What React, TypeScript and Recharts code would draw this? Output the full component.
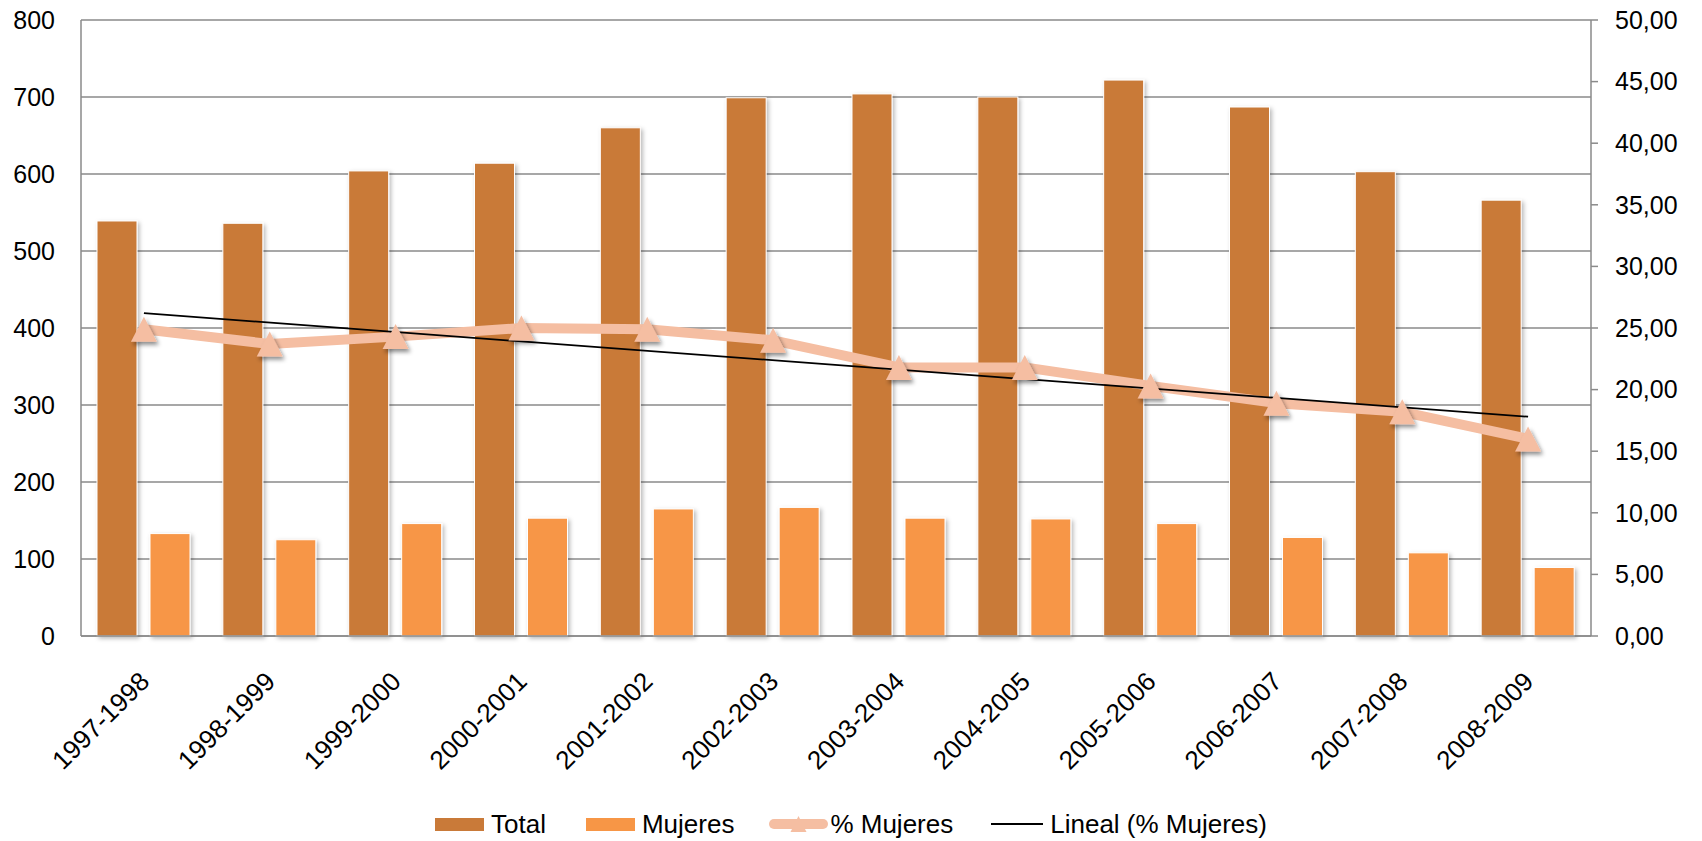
import React from 'react';
import { ComposedChart, Bar, Line, XAxis, YAxis, CartesianGrid, Legend } from 'recharts';

const categories = [
  '1997-1998', '1998-1999', '1999-2000', '2000-2001', '2001-2002', '2002-2003',
  '2003-2004', '2004-2005', '2005-2006', '2006-2007', '2007-2008', '2008-2009',
];
const totalValues = [539, 536, 604, 614, 660, 699, 704, 700, 722, 687, 603, 566];
const mujeresValues = [133, 125, 146, 153, 165, 167, 153, 152, 146, 128, 108, 89];
const pctMujeres = [24.9, 23.7, 24.3, 25.0, 24.9, 24.0, 21.8, 21.8, 20.3, 18.9, 18.2, 16.0];
const trendStart = 26.2;
const trendEnd = 17.8;
const leftTicks = [0, 100, 200, 300, 400, 500, 600, 700, 800];
const rightTicks = [0, 5, 10, 15, 20, 25, 30, 35, 40, 45, 50];

const data = categories.map((c, i) => ({
  name: c,
  total: totalValues[i],
  mujeres: mujeresValues[i],
  pct: pctMujeres[i],
  trend: i === 0 ? trendStart : i === categories.length - 1 ? trendEnd : null,
}));

const FONT = '"Liberation Sans", Arial, sans-serif';
const TOTAL_COLOR = '#C97A39';
const MUJ_COLOR = '#F79646';
const PCT_COLOR = '#F5BEA2';
const GRID = '#8a8a8a';

const ShadowBar = (props: any) => {
  const { x, y, width, height, fill } = props;
  if (height == null || width == null) return null;
  return (
    <rect x={x} y={y} width={width} height={height} fill={fill} stroke="#ffffff" strokeWidth={1}
      filter="url(#barShadow)" />
  );
};

const renderTriangle = (props: any) => {
  const { cx, cy, index } = props;
  if (cx == null || cy == null) return <g key={`t${index}`} />;
  const pts = `${cx},${cy - 12.5} ${cx + 13},${cy + 12.5} ${cx - 13},${cy + 12.5}`;
  return <polygon key={`t${index}`} points={pts} fill={PCT_COLOR} filter="url(#markerShadow)" />;
};

const XTick = (props: any) => {
  const { x, y, payload } = props;
  const tx = x + 7;
  const ty = y + 47;
  return (
    <text x={tx} y={ty} transform={`rotate(-45, ${tx}, ${ty})`} textAnchor="end"
      fontSize={26} fill="#000" fontFamily={FONT}>
      {payload.value}
    </text>
  );
};

const fmtRight = (v: number) => v.toFixed(2).replace('.', ',');

const LegendContent = () => (
  <div style={{
    display: 'flex', justifyContent: 'center', alignItems: 'center', height: 34,
    fontFamily: FONT, fontSize: 26, color: '#000', whiteSpace: 'nowrap',
  }}>
    <div style={{ width: 49, height: 13, background: TOTAL_COLOR, marginRight: 7 }} />
    <span style={{ marginRight: 40 }}>Total</span>
    <div style={{ width: 49, height: 13, background: MUJ_COLOR, marginRight: 7 }} />
    <span style={{ marginRight: 35 }}>Mujeres</span>
    <svg width={59} height={20} style={{ marginRight: 2 }}>
      <line x1={5} y1={10} x2={54} y2={10} stroke={PCT_COLOR} strokeWidth={10} strokeLinecap="round" />
      <polygon points="29.5,2 37.5,18 21.5,18" fill={PCT_COLOR} />
    </svg>
    <span style={{ marginRight: 38 }}>% Mujeres</span>
    <svg width={52} height={6} style={{ marginRight: 7 }}>
      <line x1={0} y1={3} x2={52} y2={3} stroke="#000" strokeWidth={2} />
    </svg>
    <span>Lineal (% Mujeres)</span>
  </div>
);

export default function App() {
  return (
    <div style={{ position: 'absolute', left: 0, top: 0, width: 1702, height: 841, background: '#fff' }}>
      <svg width={0} height={0} style={{ position: 'absolute' }}>
        <defs>
          <filter id="barShadow" x="-30%" y="-10%" width="160%" height="120%">
            <feDropShadow dx="2" dy="2" stdDeviation="2" floodColor="#000" floodOpacity="0.28" />
          </filter>
          <filter id="markerShadow" x="-50%" y="-50%" width="200%" height="200%">
            <feDropShadow dx="2" dy="3" stdDeviation="2" floodColor="#000" floodOpacity="0.45" />
          </filter>
        </defs>
      </svg>
      <ComposedChart width={1702} height={841} data={data}
        margin={{ top: 20, right: 0, bottom: 0, left: 0 }} barGap={13}>
        <CartesianGrid yAxisId="left" vertical={false} stroke={GRID} strokeWidth={1.3} />
        <XAxis dataKey="name" height={171} tickLine={false} tickSize={0} tickMargin={0}
          axisLine={{ stroke: GRID, strokeWidth: 1.5 }} tick={<XTick />} interval={0} />
        <YAxis yAxisId="left" orientation="left" width={81} domain={[0, 800]} ticks={leftTicks}
          tickLine={false} tickSize={0} tickMargin={26} axisLine={{ stroke: GRID, strokeWidth: 1.5 }}
          tick={{ fontSize: 25, fill: '#000', fontFamily: FONT }} interval={0} />
        <YAxis yAxisId="right" orientation="right" width={111} domain={[0, 50]} ticks={rightTicks}
          tickSize={7} tickMargin={17} tickLine={{ stroke: GRID, strokeWidth: 1.5 }}
          axisLine={{ stroke: GRID, strokeWidth: 1.5 }} tickFormatter={fmtRight}
          tick={{ fontSize: 25, fill: '#000', fontFamily: FONT, textAnchor: 'start' }} interval={0} />
        <Bar yAxisId="left" dataKey="total" name="Total" fill={TOTAL_COLOR} barSize={40}
          shape={<ShadowBar />} isAnimationActive={false} />
        <Bar yAxisId="left" dataKey="mujeres" name="Mujeres" fill={MUJ_COLOR} barSize={40}
          shape={<ShadowBar />} isAnimationActive={false} />
        <Line yAxisId="right" dataKey="pct" name="% Mujeres" stroke={PCT_COLOR} strokeWidth={10}
          strokeLinejoin="round" dot={renderTriangle} activeDot={false} isAnimationActive={false} />
        <Line yAxisId="right" dataKey="trend" name="Lineal (% Mujeres)" stroke="#000" strokeWidth={1.8}
          connectNulls dot={false} activeDot={false} isAnimationActive={false} />
        <Legend verticalAlign="bottom" align="center" content={() => <LegendContent />} />
      </ComposedChart>
    </div>
  );
}
